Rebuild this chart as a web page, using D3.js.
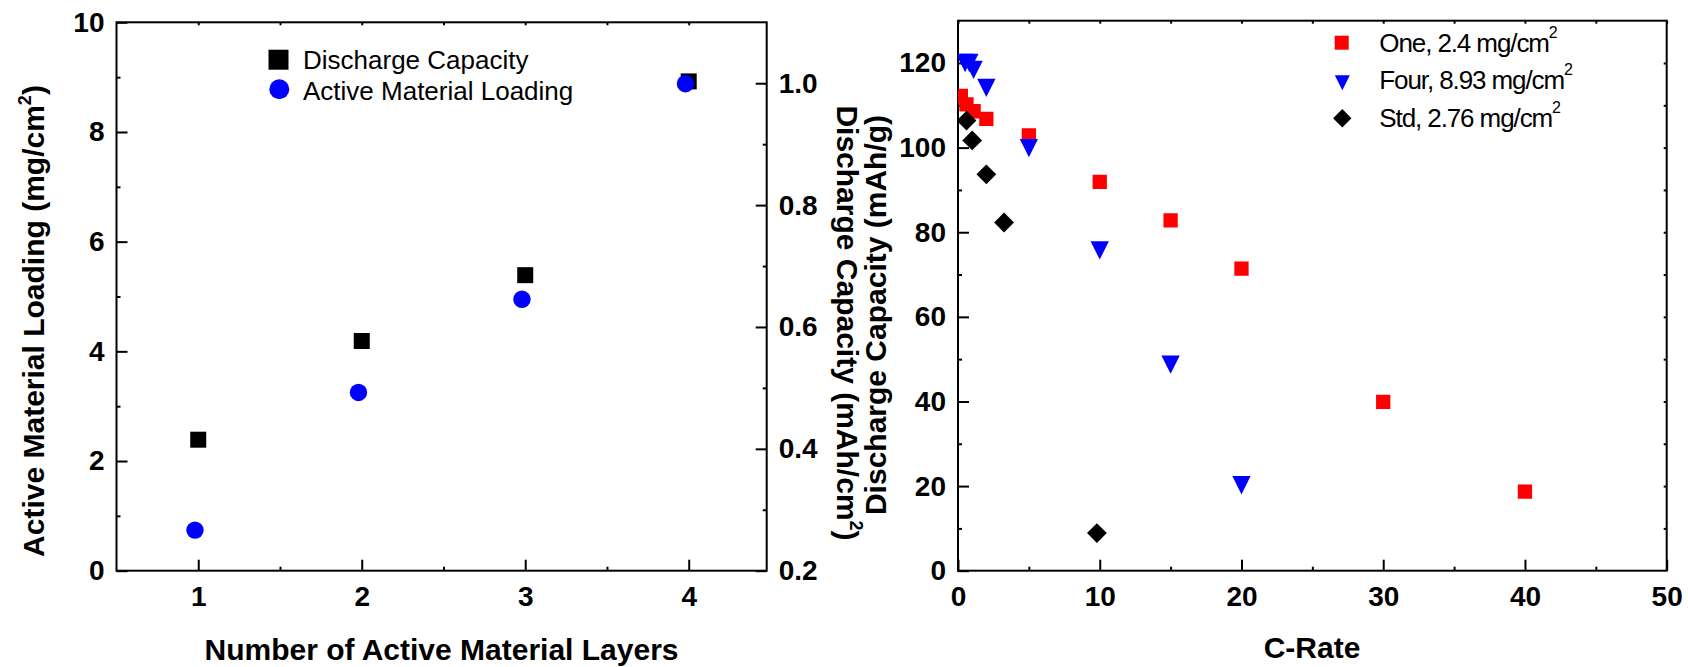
<!DOCTYPE html>
<html>
<head>
<meta charset="utf-8">
<script src="https://d3js.org/d3.v7.min.js"></script>
<style>
  body { margin: 0; background: #fff; }
  svg { font-family: "Liberation Sans", Arial, sans-serif; }
</style>
</head>
<body>
<script>
// ---- left panel: layers ----
var layers = [1, 2, 3, 4];
var dischargeCap = [0.415, 0.577, 0.685, 1.003];   // mAh/cm2 (right axis)
var loadingLayers = [0.98, 1.98, 2.98, 3.98];
var loading = [0.74, 3.25, 4.95, 8.88];             // mg/cm2 (left axis)
var layerTicks = [1, 2, 3, 4];
var layerMinor = [1.5, 2.5, 3.5];
var loadingTicks = [0, 2, 4, 6, 8, 10];
var loadingMinor = [1, 3, 5, 7, 9];
var capTicks = [0.2, 0.4, 0.6, 0.8, 1.0];
var capMinor = [0.3, 0.5, 0.7, 0.9];

// ---- right panel: C-rate ----
var oneRate = [0.2, 0.6, 1.1, 2, 5, 10, 15, 20, 30, 40];
var oneCap = [112.2, 110.2, 108.6, 106.8, 102.9, 91.9, 82.8, 71.4, 39.9, 18.7];
var fourRate = [0.5, 0.8, 1.1, 2, 5, 10, 15, 20];
var fourCap = [120, 120, 118.4, 114.1, 99.9, 75.7, 48.7, 20.2];
var stdRate = [0.6, 1, 2, 3.25, 9.8];
var stdCap = [106.4, 101.7, 93.7, 82.3, 8.9];
var rateTicks = [0, 10, 20, 30, 40, 50];
var rateMinor = [5, 15, 25, 35, 45];
var capgTicks = [0, 20, 40, 60, 80, 100, 120];
var capgMinor = [10, 30, 50, 70, 90, 110];

var width = 1688, height = 667;
var svg = d3.select("body").append("svg")
    .attr("width", width)
    .attr("height", height);

var xL = d3.scaleLinear().domain([0.5, 4.477]).range([116.5, 766.7]);
var yL = d3.scaleLinear().domain([0, 10]).range([570.7, 22.3]);
var yR = d3.scaleLinear().domain([0.2, 1.1]).range([570.7, 22.3]);

var xC = d3.scaleLinear().domain([0, 50]).range([958, 1666.7]);
var yC = d3.scaleLinear().domain([0, 130]).range([570.7, 20.7]);

function styleAxis(g, fontSize) {
    g.select(".domain").remove();
    g.selectAll(".tick line").attr("stroke", "#000").attr("stroke-width", 2);
    g.selectAll(".tick text")
        .attr("fill", "#000")
        .style("font-size", fontSize + "px")
        .style("font-weight", "bold")
        .style("font-family", '"Liberation Sans", Arial, sans-serif');
}

function drawFrame(x, y, xTicks, xMinor, yTicks, yMinor, yFmt, xTopTicks) {
    var x0 = x.range()[0], x1 = x.range()[1];
    var y0 = y.range()[0], y1 = y.range()[1];

    svg.append("g").attr("transform", "translate(0," + y0 + ")")
        .call(d3.axisBottom(x).tickValues(xTicks).tickSize(-11).tickPadding(15).tickFormat(d3.format("d")))
        .call(styleAxis, 28);
    svg.append("g").attr("transform", "translate(0," + y0 + ")")
        .call(d3.axisBottom(x).tickValues(xMinor).tickSize(-4).tickFormat(""))
        .call(styleAxis, 28);
    svg.append("g").attr("transform", "translate(0," + y1 + ")")
        .call(d3.axisTop(x).tickValues(xTopTicks).tickSize(-3).tickFormat(""))
        .call(styleAxis, 28);

    svg.append("g").attr("transform", "translate(" + x0 + ",0)")
        .call(d3.axisLeft(y).tickValues(yTicks).tickSize(-11).tickPadding(12).tickFormat(yFmt))
        .call(styleAxis, 28);
    svg.append("g").attr("transform", "translate(" + x0 + ",0)")
        .call(d3.axisLeft(y).tickValues(yMinor).tickSize(-4).tickFormat(""))
        .call(styleAxis, 28);

    svg.append("rect")
        .attr("x", x0).attr("y", y1)
        .attr("width", x1 - x0).attr("height", y0 - y1)
        .attr("fill", "none").attr("stroke", "#000").attr("stroke-width", 2);
}

// ---------- left panel ----------
drawFrame(xL, yL, layerTicks, layerMinor, loadingTicks, loadingMinor, d3.format("d"),
    [1, 1.5, 2, 2.5, 3, 3.5, 4]);

svg.append("g").attr("transform", "translate(" + xL.range()[1] + ",0)")
    .call(d3.axisRight(yR).tickValues(capTicks).tickSize(-11).tickPadding(12).tickFormat(d3.format(".1f")))
    .call(styleAxis, 28);
svg.append("g").attr("transform", "translate(" + xL.range()[1] + ",0)")
    .call(d3.axisRight(yR).tickValues(capMinor).tickSize(-4).tickFormat(""))
    .call(styleAxis, 28);

var sq = d3.symbol().type(d3.symbolSquare);
var circ = d3.symbol().type(d3.symbolCircle);

svg.append("g").selectAll("path")
    .data(layers)
    .enter().append("path")
    .attr("d", sq.size(16 * 16)())
    .attr("transform", function(d, i) { return "translate(" + xL(d) + "," + yR(dischargeCap[i]) + ")"; })
    .attr("fill", "#000");

svg.append("g").selectAll("path")
    .data(loadingLayers)
    .enter().append("path")
    .attr("d", circ.size(Math.PI * 8.7 * 8.7)())
    .attr("transform", function(d, i) { return "translate(" + xL(d) + "," + yL(loading[i]) + ")"; })
    .attr("fill", "#0000ff");

// legend (left)
svg.append("path").attr("d", sq.size(20 * 20)()).attr("transform", "translate(278.5,59.7)").attr("fill", "#000");
svg.append("path").attr("d", circ.size(Math.PI * 10 * 10)()).attr("transform", "translate(279.3,89.3)").attr("fill", "#0000ff");
svg.append("text").attr("x", 303).attr("y", 69.3).style("font-size", "26px").text("Discharge Capacity");
svg.append("text").attr("x", 303).attr("y", 99.5).style("font-size", "26px").text("Active Material Loading");

// titles (left)
svg.append("text")
    .attr("x", 441.5).attr("y", 660)
    .attr("text-anchor", "middle")
    .style("font-size", "30px").style("font-weight", "bold")
    .text("Number of Active Material Layers");

var tl = svg.append("text")
    .attr("transform", "translate(43.5,321) rotate(-90)")
    .attr("text-anchor", "middle")
    .style("font-size", "30px").style("font-weight", "bold");
tl.append("tspan").text("Active Material Loading (mg/cm");
tl.append("tspan").attr("dy", -13).style("font-size", "18px").text("2");
tl.append("tspan").attr("dy", 13).text(")");

var tr = svg.append("text")
    .attr("transform", "translate(836.7,323) rotate(90)")
    .attr("text-anchor", "middle")
    .style("font-size", "30px").style("font-weight", "bold");
tr.append("tspan").text("Discharge Capacity (mAh/cm");
tr.append("tspan").attr("dy", -13).style("font-size", "18px").text("2");
tr.append("tspan").attr("dy", 13).text(")");

// ---------- right panel ----------
drawFrame(xC, yC, rateTicks, rateMinor, capgTicks, capgMinor, d3.format("d"),
    d3.range(0, 51, 5));

svg.append("g").attr("transform", "translate(" + xC.range()[1] + ",0)")
    .call(d3.axisRight(yC).tickValues(d3.range(10, 130, 10)).tickSize(-3).tickFormat(""))
    .call(styleAxis, 28);

svg.append("defs").append("clipPath").attr("id", "clipC")
    .append("rect")
    .attr("x", xC.range()[0]).attr("y", yC.range()[1])
    .attr("width", xC.range()[1] - xC.range()[0])
    .attr("height", yC.range()[0] - yC.range()[1]);

var marks = svg.append("g").attr("clip-path", "url(#clipC)");

function triDown(s) {
    var h = s / 2;
    return "M" + (-h) + "," + (-h) + "L" + h + "," + (-h) + "L0," + h + "Z";
}

marks.append("g").selectAll("path")
    .data(oneRate)
    .enter().append("path")
    .attr("d", sq.size(14.3 * 14.3)())
    .attr("transform", function(d, i) { return "translate(" + xC(d) + "," + yC(oneCap[i]) + ")"; })
    .attr("fill", "#ff0000");

marks.append("g").selectAll("path")
    .data(fourRate)
    .enter().append("path")
    .attr("d", triDown(18.3))
    .attr("transform", function(d, i) { return "translate(" + xC(d) + "," + yC(fourCap[i]) + ")"; })
    .attr("fill", "#0000ff");

marks.append("g").selectAll("path")
    .data(stdRate)
    .enter().append("path")
    .attr("d", sq.size(14 * 14)())
    .attr("transform", function(d, i) { return "translate(" + xC(d) + "," + yC(stdCap[i]) + ") rotate(45)"; })
    .attr("fill", "#000");

// legend (right)
var legR = [
    { label: "One, 2.4 mg/cm", y: 52.3 },
    { label: "Four, 8.93 mg/cm", y: 89 },
    { label: "Std, 2.76 mg/cm", y: 126.7 }
];
svg.append("path").attr("d", sq.size(14 * 14)()).attr("transform", "translate(1341.7,42.7)").attr("fill", "#ff0000");
svg.append("path").attr("d", triDown(15)).attr("transform", "translate(1342.3,82.7)").attr("fill", "#0000ff");
svg.append("path").attr("d", sq.size(13 * 13)()).attr("transform", "translate(1342.3,118.3) rotate(45)").attr("fill", "#000");

legR.forEach(function(d) {
    var t = svg.append("text").attr("x", 1379.3).attr("y", d.y).style("font-size", "26px");
    t.append("tspan").style("letter-spacing", "-1.1px").text(d.label);
    t.append("tspan").attr("dy", -14).style("font-size", "16px").text("2");
});

// titles (right)
svg.append("text")
    .attr("x", 1312).attr("y", 658)
    .attr("text-anchor", "middle")
    .style("font-size", "30px").style("font-weight", "bold")
    .text("C-Rate");

svg.append("text")
    .attr("transform", "translate(885.5,315) rotate(-90)")
    .attr("text-anchor", "middle")
    .style("font-size", "30px").style("font-weight", "bold")
    .text("Discharge Capacity (mAh/g)");
</script>
</body>
</html>
